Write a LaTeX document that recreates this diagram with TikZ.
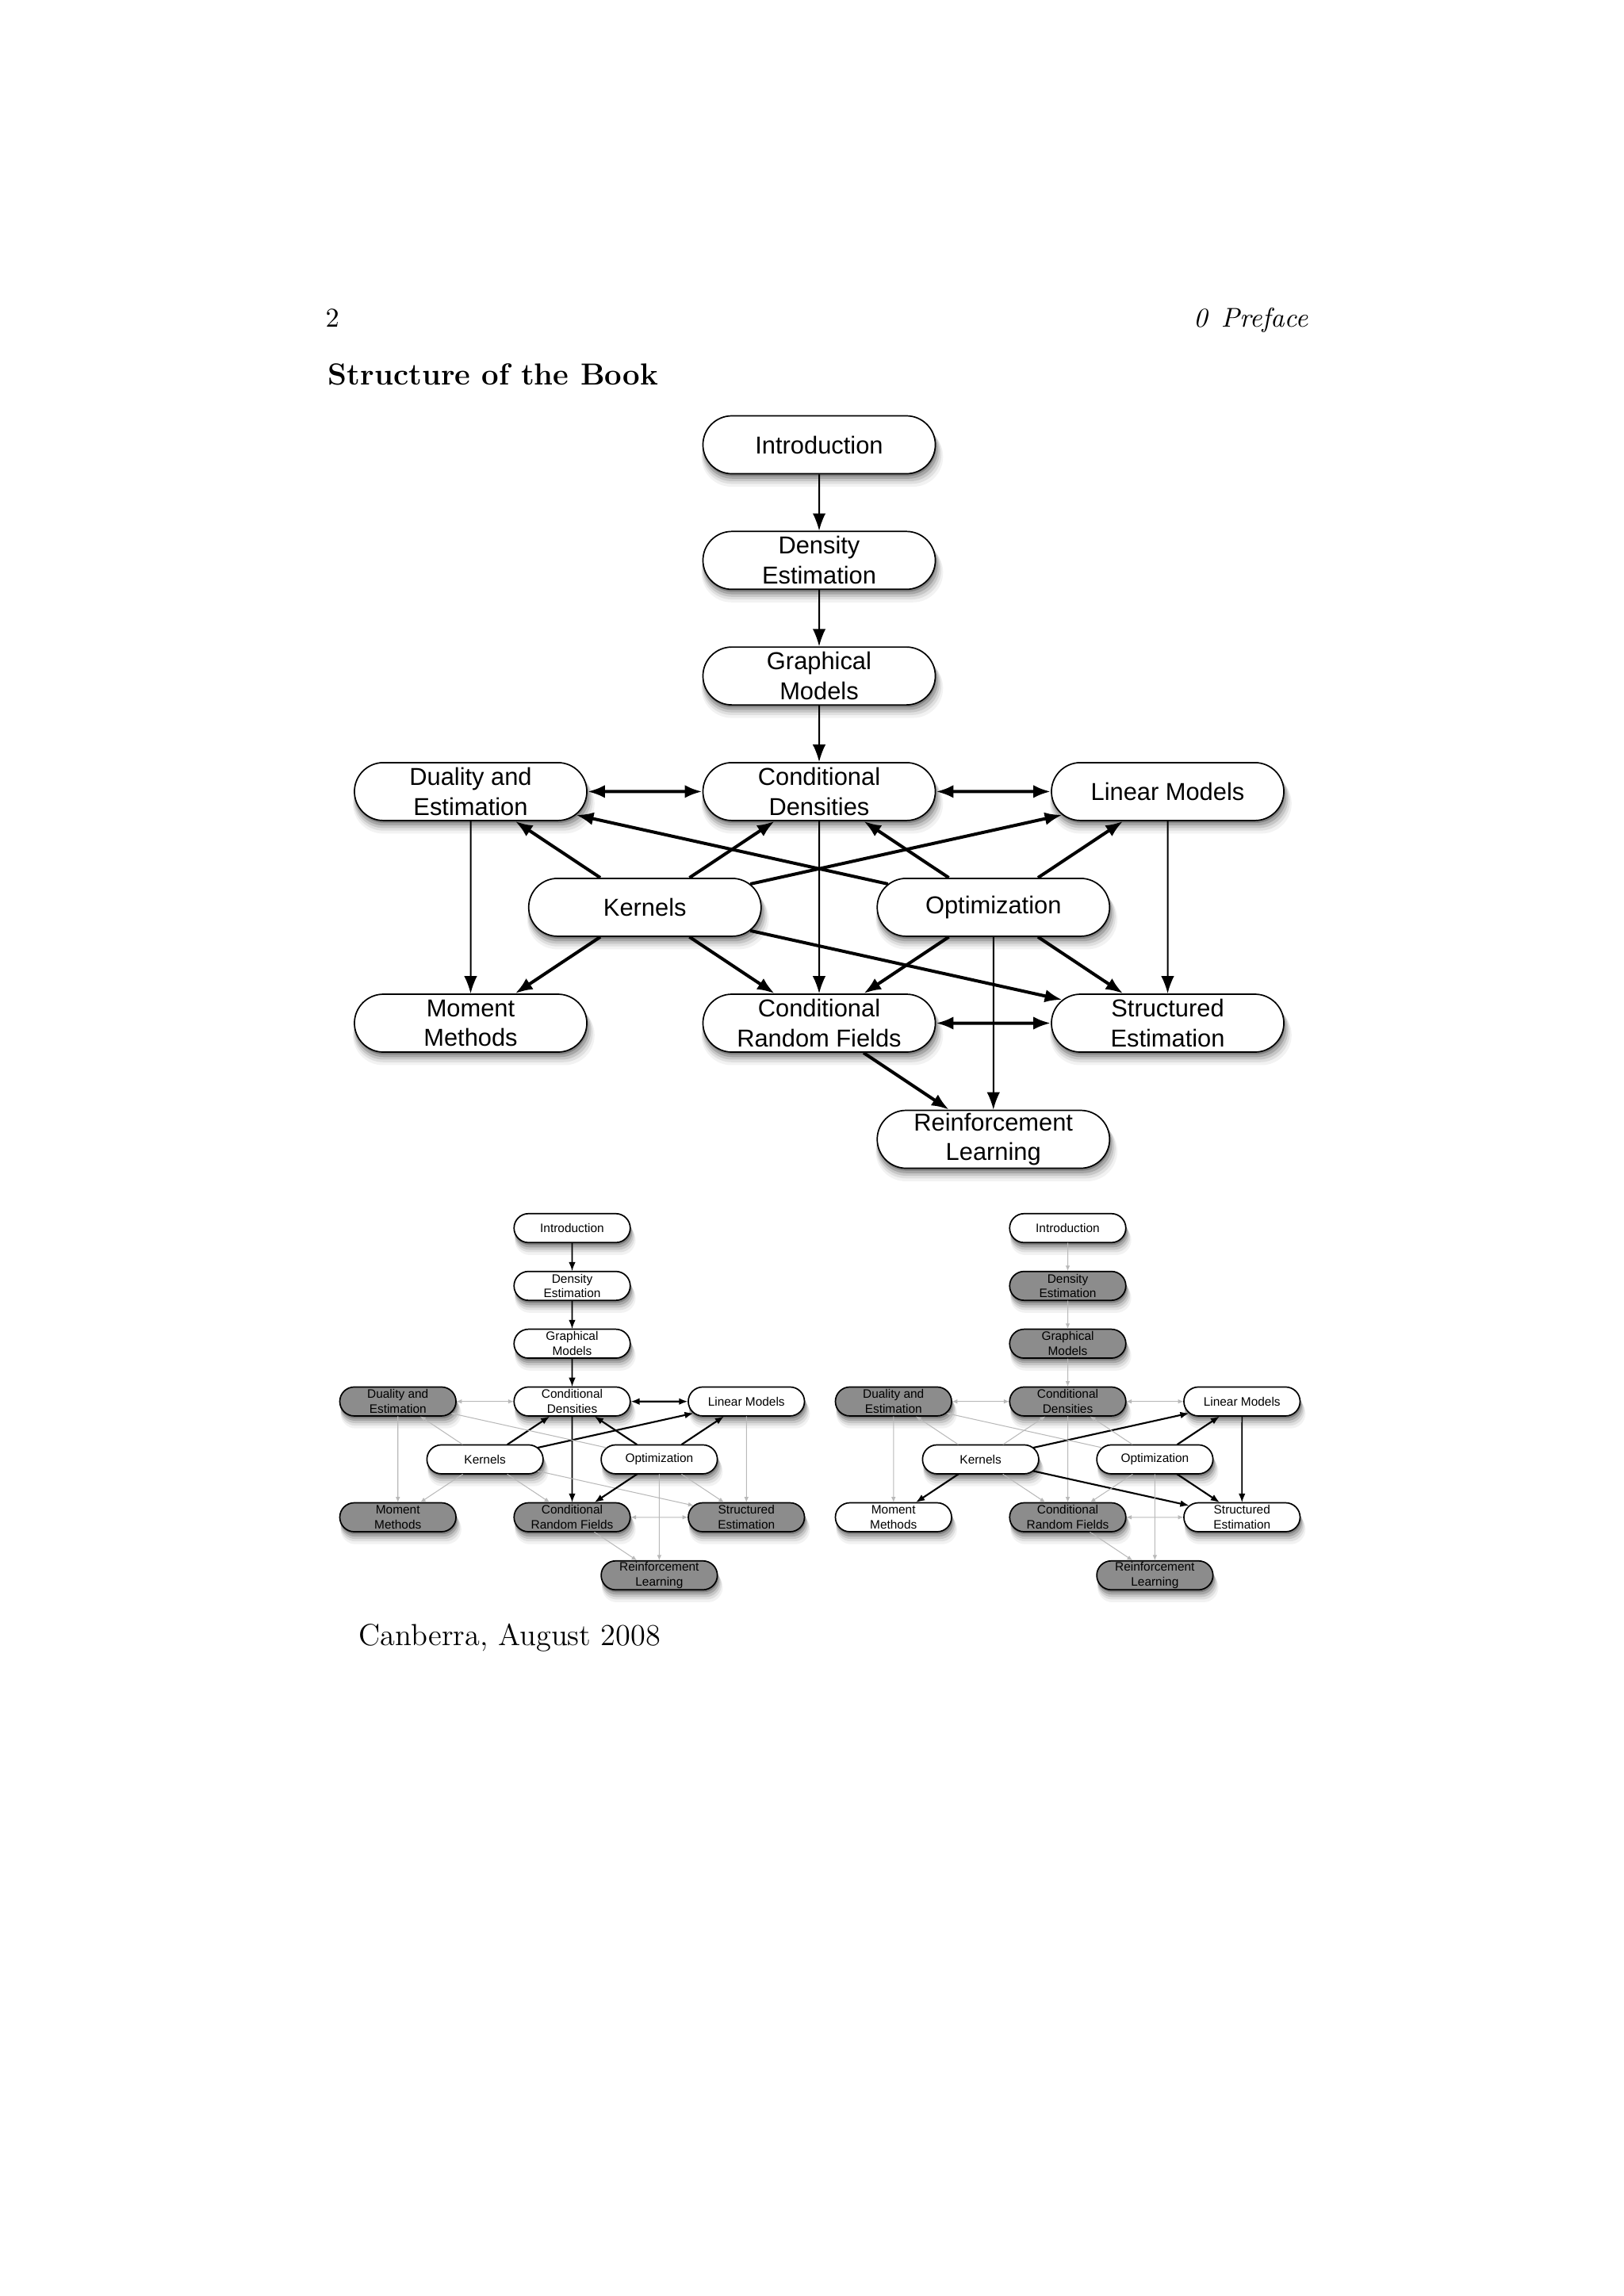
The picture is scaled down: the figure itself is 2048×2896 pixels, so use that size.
\documentclass[tikz,border=0pt]{standalone}
\usepackage{fontspec}
\newfontfamily\nodefont{Liberation Sans}
\usetikzlibrary{shapes.misc,shadows,arrows.meta}
\definecolor{boxgray}{RGB}{140,140,140}
\definecolor{edgegray}{RGB}{185,185,185}
\makeatletter
\def\allon{all}
\newcommand\edgemode[2]{%
  \ifx\onlist\allon\tikzset{main#2}\else
    \edef\my@tmp{\noexpand\in@{,#1,}{,\onlist,}}\my@tmp
    \ifin@\tikzset{on#2}\else\tikzset{offedge}\fi
  \fi}
\makeatother
\tikzset{
  em/.code 2 args={\edgemode{#1}{#2}},
  softshadow/.style={
    drop shadow={shadow xshift=0.3pt, shadow yshift=-0.9pt, opacity=0.22, fill=black},
    drop shadow={shadow xshift=0.5pt, shadow yshift=-1.7pt, shadow scale=1.01, opacity=0.16, fill=black},
    drop shadow={shadow xshift=0.7pt, shadow yshift=-2.5pt, shadow scale=1.02, opacity=0.11, fill=black},
    drop shadow={shadow xshift=0.9pt, shadow yshift=-3.3pt, shadow scale=1.03, opacity=0.08, fill=black},
    drop shadow={shadow xshift=1.1pt, shadow yshift=-4.2pt, shadow scale=1.04, opacity=0.05, fill=black}},
  box/.style={rounded rectangle, draw=black, line width=0.5pt, fill=white,
    minimum width=85.5pt, minimum height=21.3pt, inner sep=0pt, align=center,
    font=\nodefont\fontsize{9}{11}\selectfont, softshadow},
  grayfill/.style={fill=boxgray},
  n-intro/.style={}, n-dens/.style={}, n-graph/.style={}, n-dual/.style={},
  n-cd/.style={}, n-lin/.style={}, n-ker/.style={}, n-opt/.style={},
  n-mom/.style={}, n-crf/.style={}, n-str/.style={}, n-rl/.style={},
  mainthin/.style={line width=0.58pt, draw=black, >={Latex[length=6.4pt,width=4.8pt]}},
  mainthick/.style={line width=1.17pt, draw=black, >={Latex[length=6.4pt,width=4.8pt]}},
  onthin/.style={line width=0.45pt, draw=black, >={Latex[length=3.3pt,width=2.5pt]}},
  onthick/.style={line width=0.62pt, draw=black, >={Latex[length=3.3pt,width=2.5pt]}},
  offedge/.style={line width=0.3pt, draw=edgegray, >={Latex[length=2pt,width=1.6pt]}},
}
\newcommand\mygraph[4]{%
\begin{scope}[shift={(#2,#3)}, scale=#4, transform shape]
 \node[box,n-intro] (#1intro) at (0,0) {Introduction};
 \node[box,n-dens] (#1dens) at (0,145.8) {Density\\Estimation};
 \node[box,n-graph] (#1graph) at (0,291.6) {Graphical\\Models};
 \node[box,n-dual] (#1dual) at (-439.5,437.4) {Duality and\\Estimation};
 \node[box,n-cd] (#1cd) at (0,437.4) {Conditional\\Densities};
 \node[box,n-lin] (#1lin) at (439.5,437.4) {Linear Models};
 \node[box,n-ker] (#1ker) at (-219.75,583.4) {Kernels};
 \node[box,n-opt] (#1opt) at (219.75,583.4) {Optimization};
 \node[box,n-mom] (#1mom) at (-439.5,729.5) {Moment\\Methods};
 \node[box,n-crf] (#1crf) at (0,729.5) {Conditional\\Random Fields};
 \node[box,n-str] (#1str) at (439.5,729.5) {Structured\\Estimation};
 \node[box,n-rl] (#1rl) at (219.75,876) {Reinforcement\\Learning};
 \draw[em={1}{thin},->] (#1intro) -- (#1dens);
 \draw[em={2}{thin},->] (#1dens) -- (#1graph);
 \draw[em={3}{thin},->] (#1graph) -- (#1cd);
 \draw[em={4}{thick},<->] (#1dual) -- (#1cd);
 \draw[em={5}{thick},<->] (#1cd) -- (#1lin);
 \draw[em={6}{thin},->] (#1dual) -- (#1mom);
 \draw[em={7}{thin},->] (#1cd) -- (#1crf);
 \draw[em={8}{thin},->] (#1lin) -- (#1str);
 \draw[em={9}{thick},->] (#1ker) -- (#1dual);
 \draw[em={10}{thick},->] (#1ker) -- (#1cd);
 \draw[em={11}{thick},->] (#1ker) -- (#1lin);
 \draw[em={12}{thick},->] (#1opt) -- (#1dual);
 \draw[em={13}{thick},->] (#1opt) -- (#1cd);
 \draw[em={14}{thick},->] (#1opt) -- (#1lin);
 \draw[em={15}{thick},->] (#1ker) -- (#1mom);
 \draw[em={16}{thick},->] (#1ker) -- (#1crf);
 \draw[em={17}{thick},->] (#1ker) -- (#1str);
 \draw[em={18}{thick},->] (#1opt) -- (#1crf);
 \draw[em={19}{thick},->] (#1opt) -- (#1str);
 \draw[em={20}{thin},->] (#1opt) -- (#1rl);
 \draw[em={21}{thick},<->] (#1crf) -- (#1str);
 \draw[em={22}{thick},->] (#1crf) -- (#1rl);
\end{scope}}
\begin{document}
\begin{tikzpicture}[x=0.29175pt, y=-0.29175pt]
\useasboundingbox[fill=white] (0,0) rectangle (2048,2896);
\node[anchor=base west, inner sep=0pt, font=\fontsize{10}{12}\selectfont] (pnum) at (410,412) {2};
\node[anchor=base east, inner sep=0pt, font=\fontsize{10}{12}\selectfont\itshape] (phead) at (1650,412) {0\hspace{0.5em}Preface};
\node[anchor=base west, inner sep=0pt, font=\fontsize{11.2}{13}\selectfont\bfseries] (title) at (413,485) {Structure of the Book};
\node[anchor=base west, inner sep=0pt, font=\fontsize{11.2}{13}\selectfont] (date) at (452,2075) {Canberra, August 2008};
\begin{scope}
 \def\onlist{all}
 \mygraph{m}{1033}{561}{1}
\end{scope}
\begin{scope}
 \def\onlist{1,2,3,5,7,10,11,13,14,18}
 \tikzset{n-dual/.style=grayfill, n-mom/.style=grayfill, n-crf/.style=grayfill,
   n-str/.style=grayfill, n-rl/.style=grayfill}
 \mygraph{l}{721.5}{1549}{0.5}
\end{scope}
\begin{scope}
 \def\onlist{8,11,14,15,17,19}
 \tikzset{n-dens/.style=grayfill, n-graph/.style=grayfill, n-dual/.style=grayfill,
   n-cd/.style=grayfill, n-crf/.style=grayfill, n-rl/.style=grayfill}
 \mygraph{r}{1346.5}{1549}{0.5}
\end{scope}
\end{tikzpicture}
\end{document}
